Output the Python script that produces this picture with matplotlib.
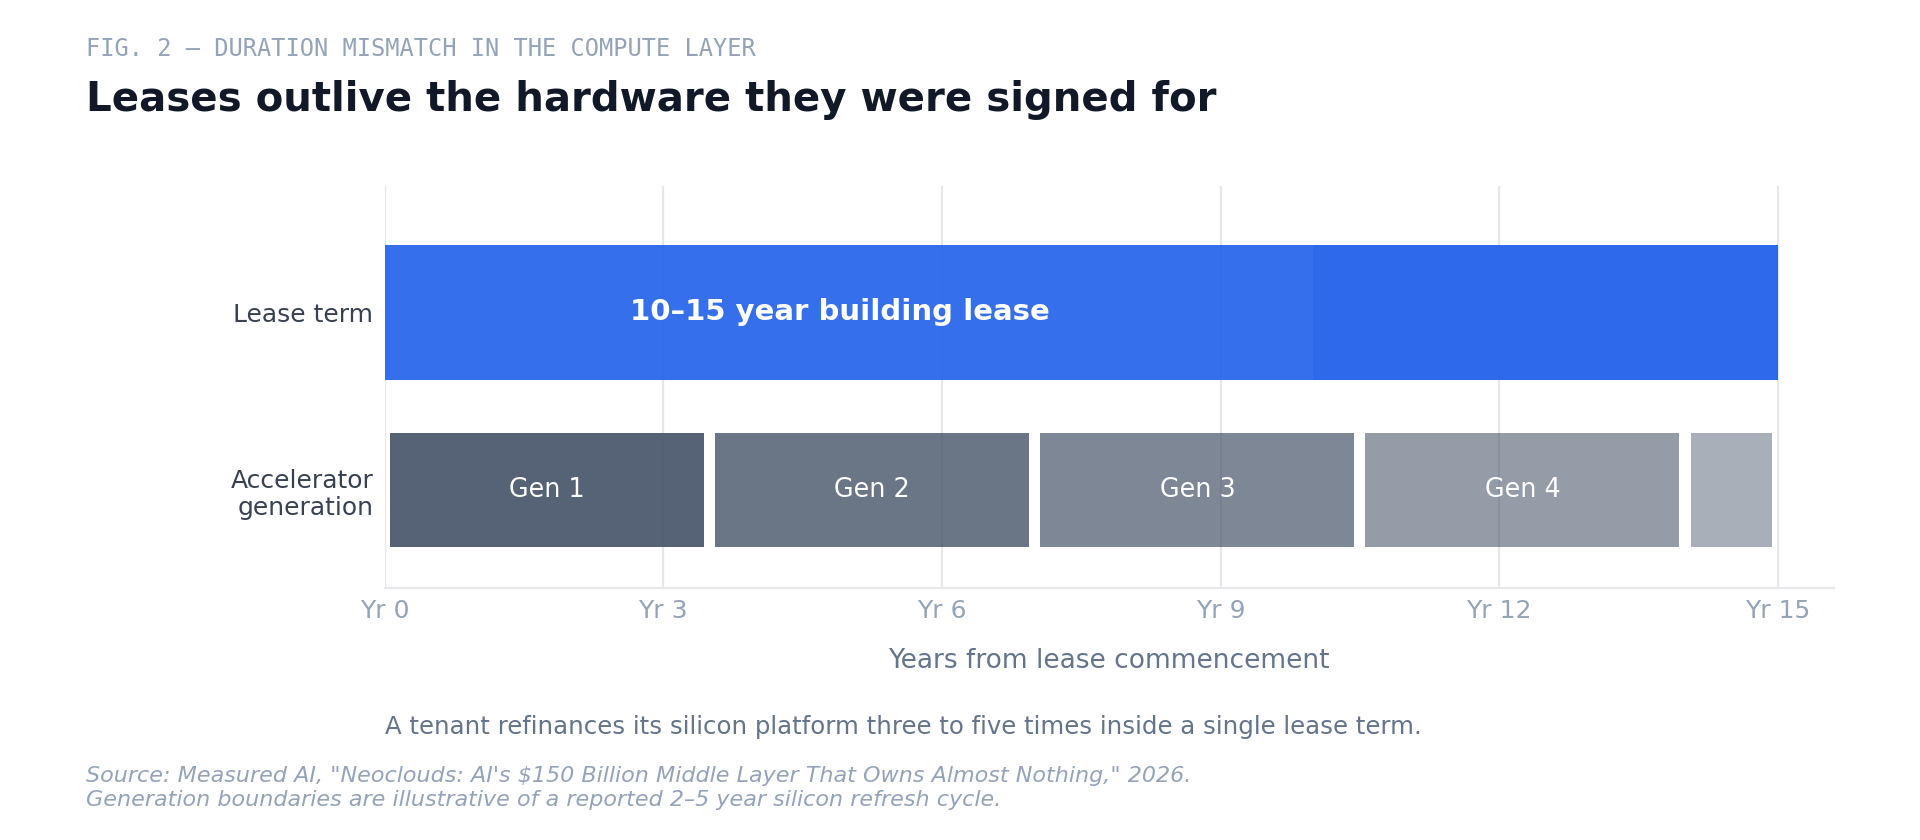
import matplotlib.pyplot as plt

# data
lease_label = "Lease term"
gen_label = "Accelerator\ngeneration"
lease_segments = [(0, 10), (10, 15)]
lease_text = "10\u201315 year building lease"
gen_names = ["Gen 1", "Gen 2", "Gen 3", "Gen 4", ""]
gen_starts = [0, 3.5, 7, 10.5, 14]
gen_ends = [3.5, 7, 10.5, 14, 15]
ticks = [0, 3, 6, 9, 12, 15]
tick_labels = [f"Yr {t}" for t in ticks]

# colours
blue = "#2563eb"
lease_alphas = [0.92, 0.96]
slate = "#475569"
gen_alphas = [0.92, 0.81, 0.70, 0.58, 0.47]
grid_c = "#e5e7eb"

fig = plt.figure(figsize=(9.6, 4.2), dpi=200)
ax = fig.add_axes([0.2003, 0.30, 0.955 - 0.2003, 0.7786 - 0.30])

ax.set_axisbelow(True)
ax.grid(axis="x", color=grid_c, lw=0.8)

# lease bar
for (a, b), al in zip(lease_segments, lease_alphas):
    ax.barh(1, b - a, left=a, height=0.76, color=blue, alpha=al, lw=0)
ax.text(4.9, 1, lease_text, ha="center", va="center", color="white",
        fontsize=10.5, fontweight="bold")

# generations
pad = 0.06
for name, s, e, al in zip(gen_names, gen_starts, gen_ends, gen_alphas):
    ax.barh(0, e - s - 2 * pad, left=s + pad, height=0.64, color=slate,
            alpha=al, lw=0)
    if name:
        ax.text((s + e) / 2, 0, name, ha="center", va="center",
                color="white", fontsize=9.2)

ax.set_xlim(0, 15.6)
ax.set_ylim(-0.55, 1.71)
ax.set_xticks(ticks)
ax.set_xticklabels(tick_labels)
ax.set_yticks([0, 1])
ax.set_yticklabels([gen_label, lease_label])
ax.tick_params(axis="x", length=0, pad=4, labelsize=9, labelcolor="#94a3b8")
ax.tick_params(axis="y", length=0, pad=4, labelsize=9, labelcolor="#374151")
for sp in ["top", "right", "left"]:
    ax.spines[sp].set_visible(False)
ax.spines["bottom"].set_color(grid_c)
ax.spines["bottom"].set_linewidth(0.8)
ax.set_xlabel("Years from lease commencement", fontsize=9.5,
              color="#64748b", labelpad=9)

# header / footer text
fig.text(0.0446, 0.933, "FIG. 2 \u2014 DURATION MISMATCH IN THE COMPUTE LAYER",
         family="DejaVu Sans Mono", fontsize=8.5, color="#94a3b8",
         va="baseline")
fig.text(0.0446, 0.868, "Leases outlive the hardware they were signed for",
         fontsize=14.5, fontweight="bold", color="#111827", va="baseline")
fig.text(0.2003, 0.134,
         "A tenant refinances its silicon platform three to five times inside a single lease term.",
         fontsize=8.8, color="#64748b", va="center")
fig.text(0.0446, 0.062,
         "Source: Measured AI, \"Neoclouds: AI's $150 Billion Middle Layer That Owns Almost Nothing,\" 2026.\n"
         "Generation boundaries are illustrative of a reported 2\u20135 year silicon refresh cycle.",
         fontsize=8, style="italic", color="#94a3b8", va="center",
         linespacing=1.3)

fig.savefig("out.png", dpi=200, facecolor="white")
